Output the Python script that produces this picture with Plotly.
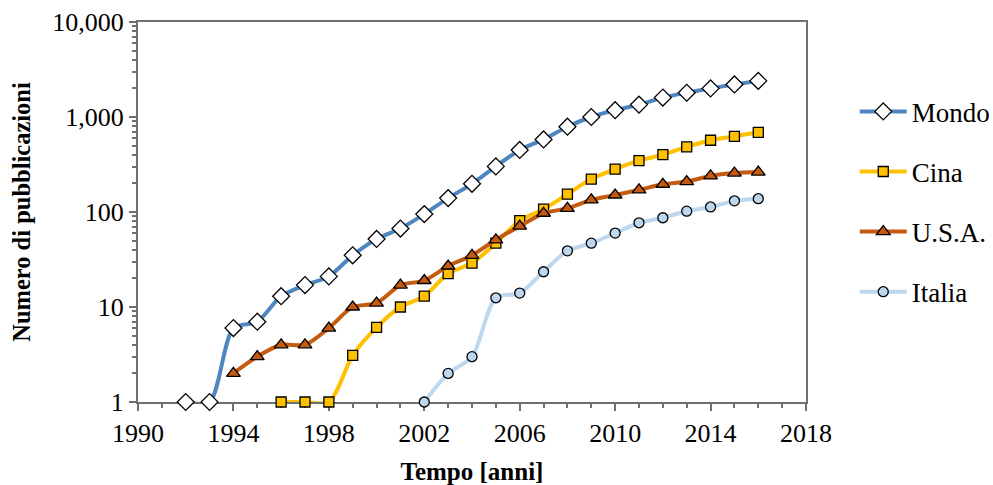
import plotly.graph_objects as go

# Pubblicazioni per anno (scala logaritmica)
anni_mondo = list(range(1992, 2017))
mondo = [1, 1, 6, 7, 13, 17, 21, 35, 52, 67, 95, 140, 198, 302, 450, 580,
         790, 1000, 1180, 1350, 1600, 1800, 2000, 2200, 2400]

anni_cina = list(range(1996, 2017))
cina = [1, 1, 1, 3.1, 6.1, 10, 13, 22.5, 29, 47, 81, 107, 154, 222, 283,
        347, 401, 484, 569, 626, 690]

anni_usa = list(range(1994, 2017))
usa = [2, 3, 4, 4, 6, 10, 11, 17, 19, 27, 35, 51, 71, 97, 109, 134, 151,
       171, 196, 209, 240, 257, 263]

anni_italia = list(range(2002, 2017))
italia = [1, 2, 3, 12.5, 14, 23.5, 39, 47, 60, 77, 87, 102, 113, 131, 138]

x_ticks = [1990, 1994, 1998, 2002, 2006, 2010, 2014, 2018]
y_ticks = [1, 10, 100, 1000, 10000]
y_tick_labels = ["1", "10", "100", "1,000", "10,000"]

FONT = "Liberation Serif"

series = [
    ("Mondo", anni_mondo, mondo, "#4F86C0", "diamond", "#FFFFFF", 13),
    ("Cina", anni_cina, cina, "#FFC000", "square", "#FFC000", 10),
    ("U.S.A.", anni_usa, usa, "#C55A11", "triangle-up", "#C55A11", 12),
    ("Italia", anni_italia, italia, "#BDD7EE", "circle", "#BDD7EE", 10),
]

fig = go.Figure()
for i, (name, xs, ys, col, sym, fill, size) in enumerate(series):
    fig.add_trace(go.Scatter(
        x=xs, y=ys, name=name, mode="lines+markers",
        line=dict(color=col, width=4, shape="spline", smoothing=0.8),
        marker=dict(symbol=sym, size=size, color=fill,
                    line=dict(color="#000000", width=1.3)),
        cliponaxis=False, legendgroup=f"g{i}",
    ))

axis_line = dict(showline=True, linecolor="#707070", linewidth=2,
                 mirror=True, showgrid=False, zeroline=False,
                 layer="below traces", automargin=False,
                 tickfont=dict(family=FONT, size=26, color="#000"))

fig.update_layout(
    width=993, height=485,
    margin=dict(l=138, r=187, t=22, b=83, autoexpand=False),
    paper_bgcolor="white", plot_bgcolor="white",
    font=dict(family=FONT, color="#000"),
    xaxis=dict(
        range=[1990, 2018], tickmode="array", tickvals=x_ticks,
        ticks="outside", ticklen=7, tickwidth=1.5, tickcolor="#707070",
        minor=dict(ticks="outside", ticklen=4, dtick=1, tickcolor="#707070",
                   tickwidth=1.5, showgrid=False),
        title=dict(text="<b>Tempo [anni]</b>",
                   font=dict(family=FONT, size=25, color="#000")),
        **axis_line),
    yaxis=dict(
        type="log", range=[0, 4], tickmode="array", tickvals=y_ticks,
        ticktext=y_tick_labels,
        ticks="outside", ticklen=7, tickwidth=1.5, tickcolor="#707070",
        minor=dict(ticks="outside", ticklen=4, dtick="D1", tickcolor="#707070",
                   tickwidth=1.5, showgrid=False),
        title=dict(text="<b>Numero di pubblicazioni</b>",
                   font=dict(family=FONT, size=24.5, color="#000")),
        **axis_line),
    legend=dict(x=1.073, xanchor="left", y=0.828, yanchor="top",
                font=dict(family=FONT, size=27, color="#000"),
                itemwidth=47, tracegroupgap=22, bgcolor="rgba(0,0,0,0)"),
    showlegend=True,
)

fig.write_html("out.html")
